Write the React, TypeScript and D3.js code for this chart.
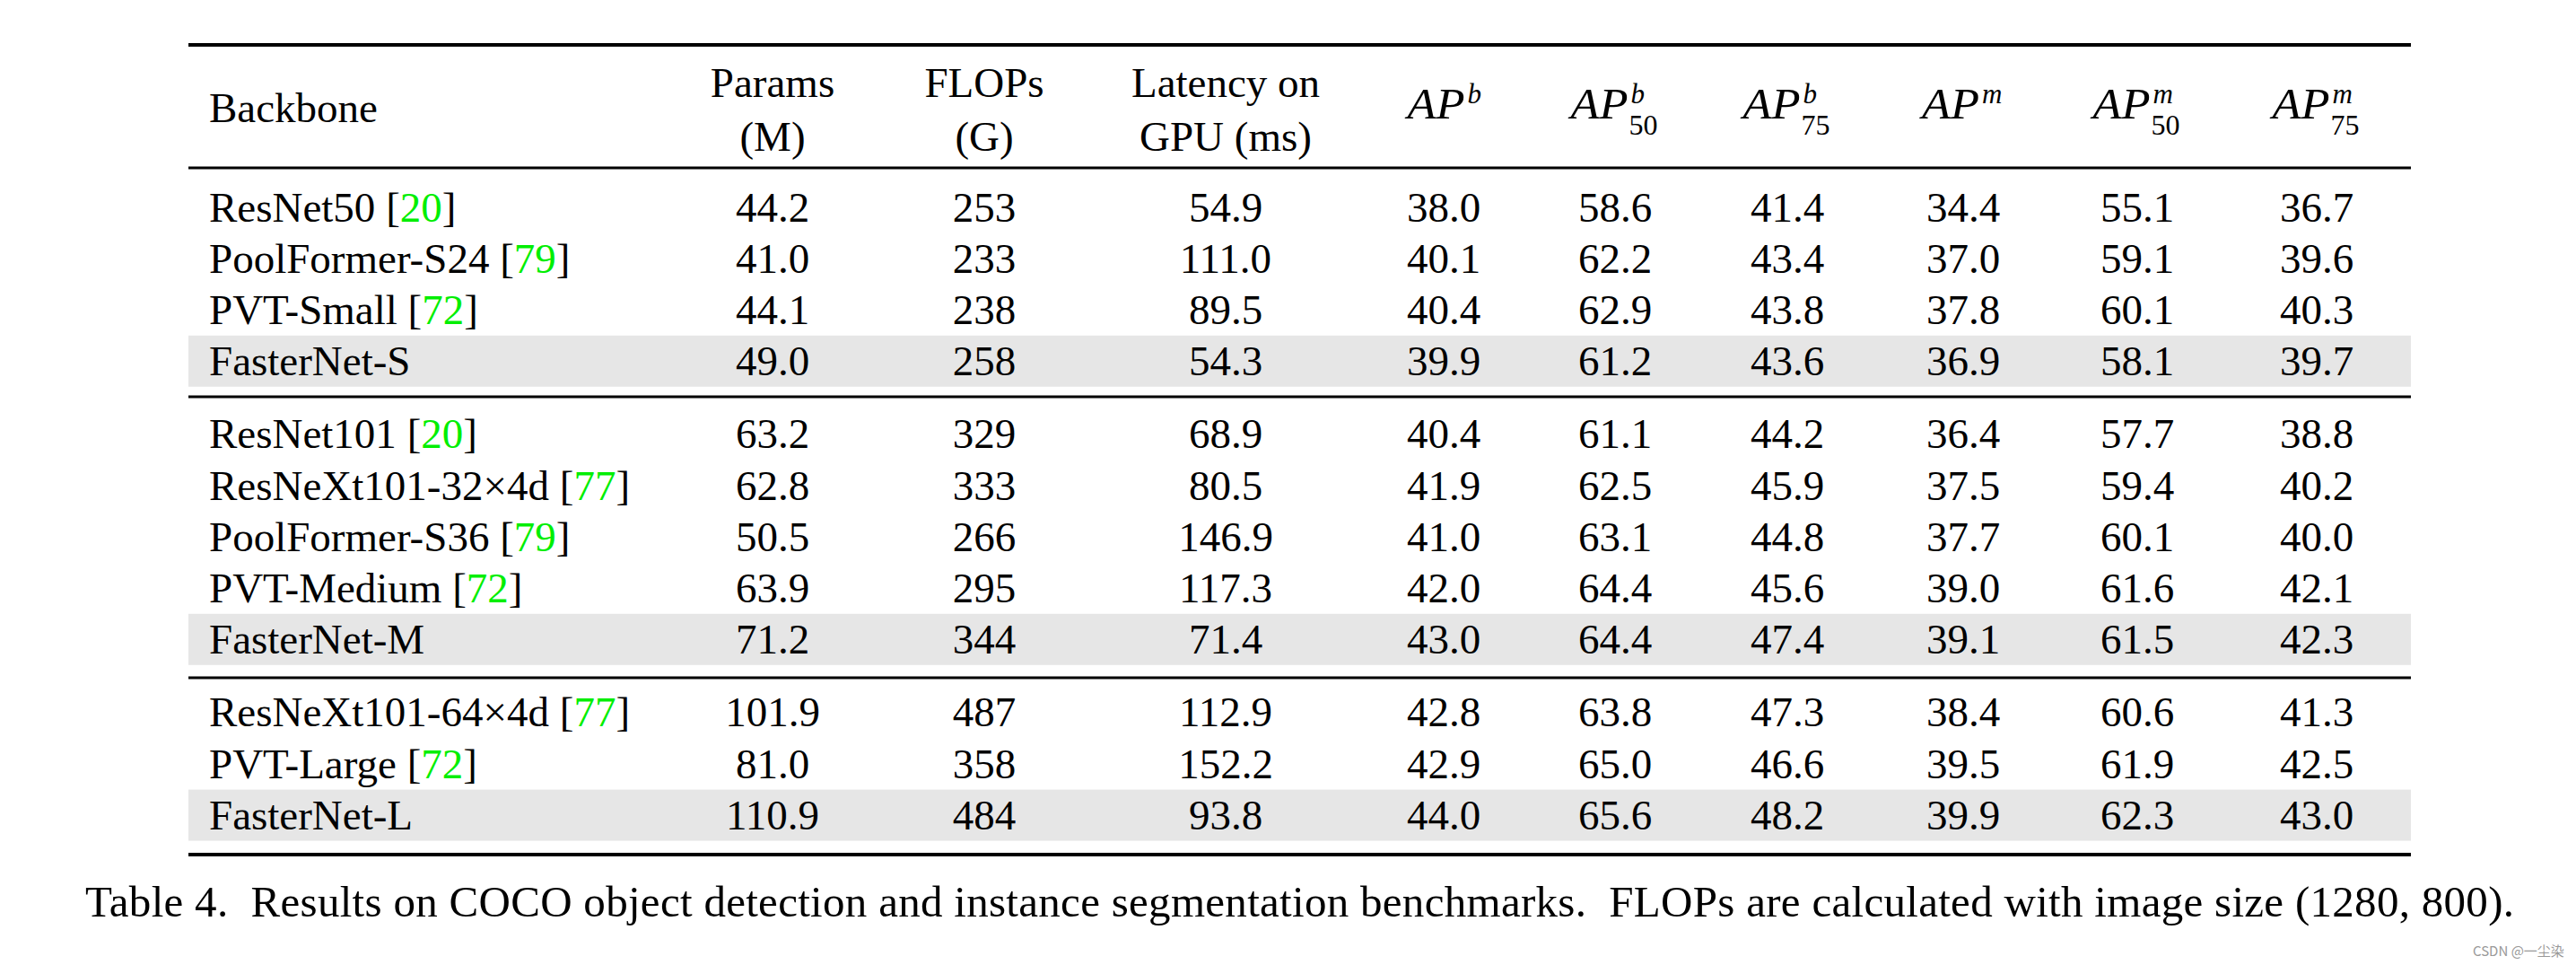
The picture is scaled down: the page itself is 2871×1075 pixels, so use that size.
import React from "react";
import * as d3 from "d3";

// ---------- data ----------
const backbones = [
  "ResNet50", "PoolFormer-S24", "PVT-Small", "FasterNet-S",
  "ResNet101", "ResNeXt101-32×4d", "PoolFormer-S36", "PVT-Medium", "FasterNet-M",
  "ResNeXt101-64×4d", "PVT-Large", "FasterNet-L",
];
const refs = ["20", "79", "72", "", "20", "77", "79", "72", "", "77", "72", ""];
const groups = [0, 0, 0, 0, 1, 1, 1, 1, 1, 2, 2, 2];
const highlighted = [false, false, false, true, false, false, false, false, true, false, false, true];

const params = ["44.2", "41.0", "44.1", "49.0", "63.2", "62.8", "50.5", "63.9", "71.2", "101.9", "81.0", "110.9"];
const flops = ["253", "233", "238", "258", "329", "333", "266", "295", "344", "487", "358", "484"];
const latency = ["54.9", "111.0", "89.5", "54.3", "68.9", "80.5", "146.9", "117.3", "71.4", "112.9", "152.2", "93.8"];
const apB = ["38.0", "40.1", "40.4", "39.9", "40.4", "41.9", "41.0", "42.0", "43.0", "42.8", "42.9", "44.0"];
const apB50 = ["58.6", "62.2", "62.9", "61.2", "61.1", "62.5", "63.1", "64.4", "64.4", "63.8", "65.0", "65.6"];
const apB75 = ["41.4", "43.4", "43.8", "43.6", "44.2", "45.9", "44.8", "45.6", "47.4", "47.3", "46.6", "48.2"];
const apM = ["34.4", "37.0", "37.8", "36.9", "36.4", "37.5", "37.7", "39.0", "39.1", "38.4", "39.5", "39.9"];
const apM50 = ["55.1", "59.1", "60.1", "58.1", "57.7", "59.4", "60.1", "61.6", "61.5", "60.6", "61.9", "62.3"];
const apM75 = ["36.7", "39.6", "40.3", "39.7", "38.8", "40.2", "40.0", "42.1", "42.3", "41.3", "42.5", "43.0"];

const textHeaders = [
  { key: "params", lines: ["Params", "(M)"] },
  { key: "flops", lines: ["FLOPs", "(G)"] },
  { key: "latency", lines: ["Latency on", "GPU (ms)"] },
];
const apHeaders = [
  { key: "apB", sup: "b", sub: "" },
  { key: "apB50", sup: "b", sub: "50" },
  { key: "apB75", sup: "b", sub: "75" },
  { key: "apM", sup: "m", sub: "" },
  { key: "apM50", sup: "m", sub: "50" },
  { key: "apM75", sup: "m", sub: "75" },
];
const columnKeys = ["params", "flops", "latency", "apB", "apB50", "apB75", "apM", "apM50", "apM75"];
const columnValues = [params, flops, latency, apB, apB50, apB75, apM, apM50, apM75];

const caption =
  "Table 4.  Results on COCO object detection and instance segmentation benchmarks.  FLOPs are calculated with image size (1280, 800).";
const watermark = "CSDN @一尘染";

// ---------- layout ----------
const W = 2871;
const H = 1075;
const FONT = "'Liberation Serif', 'Times New Roman', serif";
const FS = 47;
const tableLeft = 210;
const tableRight = 2687;
const nameX = 233;

const colX = d3
  .scaleOrdinal<string, number>()
  .domain(columnKeys)
  .range([861, 1097, 1366, 1609, 1800, 1992, 2188, 2382, 2582]);

const ROW_H = 57.1;
const GROUP_GAP = 24.5 / ROW_H;
const rowY = d3.scaleLinear().domain([0, 1]).range([231, 231 + ROW_H]);
const rowCenter = (i: number) => rowY(i + groups[i] * GROUP_GAP);

const rules = [
  { y: 50, w: 4 },
  { y: 187, w: 3 },
  { y: 442, w: 3 },
  { y: 755, w: 3 },
  { y: 952, w: 4 },
];

export default function App() {
  const base = FS * 0.33;
  return (
    <svg
      width={W}
      height={H}
      viewBox={`0 0 ${W} ${H}`}
      style={{ position: "absolute", left: 0, top: 0, display: "block", background: "#fff" }}
    >
      <rect x={0} y={0} width={W} height={H} fill="#fff" />
      {/* highlighted rows */}
      {backbones.map((_, i) =>
        highlighted[i] ? (
          <rect
            key={"hl" + i}
            x={tableLeft}
            y={rowCenter(i) - 28.5}
            width={tableRight - tableLeft}
            height={57}
            fill="#e6e6e6"
          />
        ) : null
      )}
      {/* rules */}
      {rules.map((r, i) => (
        <line
          key={"r" + i}
          x1={tableLeft}
          x2={tableRight}
          y1={r.y}
          y2={r.y}
          stroke="#000"
          strokeWidth={r.w}
        />
      ))}
      {/* header */}
      <g fontFamily={FONT} fontSize={FS} fill="#000">
        <text x={nameX} y={120 + base}>Backbone</text>
        {textHeaders.map((h) => (
          <g key={h.key}>
            <text x={colX(h.key)} y={92 + base} textAnchor="middle">{h.lines[0]}</text>
            <text x={colX(h.key)} y={152 + base} textAnchor="middle">{h.lines[1]}</text>
          </g>
        ))}
        {apHeaders.map((h) => {
          const cx = colX(h.key);
          const mainW = 66;
          const supW = h.sup === "m" ? 26 : 15;
          const subW = h.sub ? 33 : 0;
          const total = mainW + Math.max(supW, subW);
          const x0 = cx - total / 2;
          return (
            <g key={h.key}>
              <text
                x={x0}
                y={132}
                fontSize={48}
                fontStyle="italic"
                textLength={mainW - 2}
                lengthAdjust="spacingAndGlyphs"
              >
                AP
              </text>
              <text x={x0 + mainW + 1} y={115} fontSize={31} fontStyle="italic">{h.sup}</text>
              {h.sub ? (
                <text x={x0 + mainW - 1} y={150} fontSize={32}>
                  {h.sub}
                </text>
              ) : null}
            </g>
          );
        })}
      </g>
      {/* body */}
      <g fontFamily={FONT} fontSize={FS} fill="#000">
        {backbones.map((b, i) => (
          <text key={"n" + i} x={nameX} y={rowCenter(i) + base}>
            {b}
            {refs[i] ? (
              <>
                {" ["}
                <tspan fill="#00ee00">{refs[i]}</tspan>
                {"]"}
              </>
            ) : null}
          </text>
        ))}
        {columnKeys.map((k, c) =>
          columnValues[c].map((v, i) => (
            <text key={k + i} x={colX(k)} y={rowCenter(i) + base} textAnchor="middle">
              {v}
            </text>
          ))
        )}
      </g>
      {/* caption */}
      <text
        x={95}
        y={1021}
        fontFamily={FONT}
        fontSize={49}
        fill="#000"
        xmlSpace="preserve"
        style={{ whiteSpace: "pre" }}
        textLength={2707}
        lengthAdjust="spacing"
      >
        {caption}
      </text>
      <text
        x={2756}
        y={1065}
        fontFamily="'Noto Sans CJK SC', 'Noto Sans', sans-serif"
        fontSize={15}
        fill="#999"
      >
        {watermark}
      </text>
    </svg>
  );
}
